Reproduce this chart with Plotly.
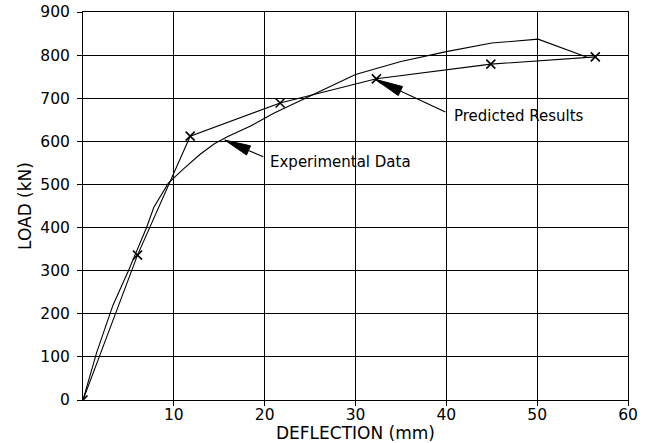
import math
import plotly.graph_objects as go

# Predicted results (with x markers)
pred_x = [0, 6.0, 11.8, 21.7, 32.3, 44.9, 56.4]
pred_y = [0, 336, 612, 689, 745, 779, 796]

# Experimental data (smooth curve)
exp_x = [0, 1.5, 3.3, 5.0, 7.0, 7.8, 9.4, 11.0, 12.9, 14.5, 16.0, 18.4, 21.0, 25.0, 30.0, 35.0, 40.0, 45.0, 50.1, 55.5]
exp_y = [0, 110, 220, 300, 400, 447, 503, 535, 570, 595, 612, 635, 665, 705, 755, 785, 808, 828, 837, 795]

x_ticks = [10, 20, 30, 40, 50, 60]
y_ticks = [0, 100, 200, 300, 400, 500, 600, 700, 800, 900]

FONT = "DejaVu Sans"
W, H = 652, 443
ML, MR, MT, MB = 83, 24, 12, 43
XR, YR = (0, 60), (0, 900)
sx = (W - ML - MR) / (XR[1] - XR[0])   # px per data unit
sy = (H - MT - MB) / (YR[1] - YR[0])

fig = go.Figure()
fig.add_trace(go.Scatter(x=exp_x, y=exp_y, mode="lines",
                         line=dict(color="black", width=1.1), name="Experimental Data"))
fig.add_trace(go.Scatter(x=pred_x, y=pred_y, mode="lines+markers",
                         line=dict(color="black", width=1.1),
                         marker=dict(symbol="x-thin", size=9, line=dict(color="black", width=1.6)),
                         name="Predicted Results"))

# Text labels
fig.add_annotation(x=40.6, y=659, text="Predicted Results", showarrow=False,
                   xanchor="left", yanchor="middle", font=dict(family=FONT, size=15, color="black"))
fig.add_annotation(x=20.4, y=552, text="Experimental Data", showarrow=False,
                   xanchor="left", yanchor="middle", font=dict(family=FONT, size=15, color="black"))


def arrow(tip, tail, head_len=28, half_w=5):
    # work in pixel space then convert back to data units
    tx, ty = tip[0] * sx, tip[1] * sy
    lx, ly = tail[0] * sx, tail[1] * sy
    d = math.hypot(lx - tx, ly - ty)
    ux, uy = (lx - tx) / d, (ly - ty) / d
    bx, by = tx + ux * head_len, ty + uy * head_len
    px, py = -uy, ux
    p1 = (bx + px * half_w, by + py * half_w)
    p2 = (bx - px * half_w, by - py * half_w)
    path = "M {:.4f},{:.4f} L {:.4f},{:.4f} L {:.4f},{:.4f} Z".format(
        tx / sx, ty / sy, p1[0] / sx, p1[1] / sy, p2[0] / sx, p2[1] / sy)
    fig.add_shape(type="path", path=path, xref="x", yref="y",
                  fillcolor="black", line=dict(color="black", width=1))
    fig.add_shape(type="line", x0=bx / sx, y0=by / sy, x1=tail[0], y1=tail[1],
                  xref="x", yref="y", line=dict(color="black", width=1.1))


arrow((32.15, 744), (39.9, 668))
arrow((15.6, 603), (19.85, 564), head_len=26, half_w=5)

fig.update_xaxes(range=list(XR), tickvals=x_ticks, ticktext=[str(v) for v in x_ticks],
                 showgrid=True, gridcolor="black", gridwidth=1,
                 showline=True, linecolor="black", linewidth=1, mirror=True,
                 ticks="outside", ticklen=5, tickcolor="black", zeroline=False,
                 automargin=False, ticklabelstandoff=-5,
                 title=dict(text="DEFLECTION (mm)", font=dict(family=FONT, size=17, color="black"), standoff=2),
                 tickfont=dict(family=FONT, size=15.5, color="black"))
fig.update_yaxes(range=list(YR), tickvals=y_ticks, ticktext=[str(v) for v in y_ticks],
                 showgrid=True, gridcolor="black", gridwidth=1,
                 showline=True, linecolor="black", linewidth=1, mirror=True,
                 ticks="outside", ticklen=5, tickcolor="black", zeroline=False,
                 automargin=False, ticklabelstandoff=4,
                 title=dict(text="LOAD (kN)", font=dict(family=FONT, size=17, color="black"), standoff=4),
                 tickfont=dict(family=FONT, size=15.5, color="black"))

fig.update_layout(width=W, height=H, margin=dict(l=ML, r=MR, t=MT, b=MB, autoexpand=False),
                  paper_bgcolor="white", plot_bgcolor="white", showlegend=False,
                  font=dict(family=FONT, size=15, color="black"))

fig.write_html("out.html")
